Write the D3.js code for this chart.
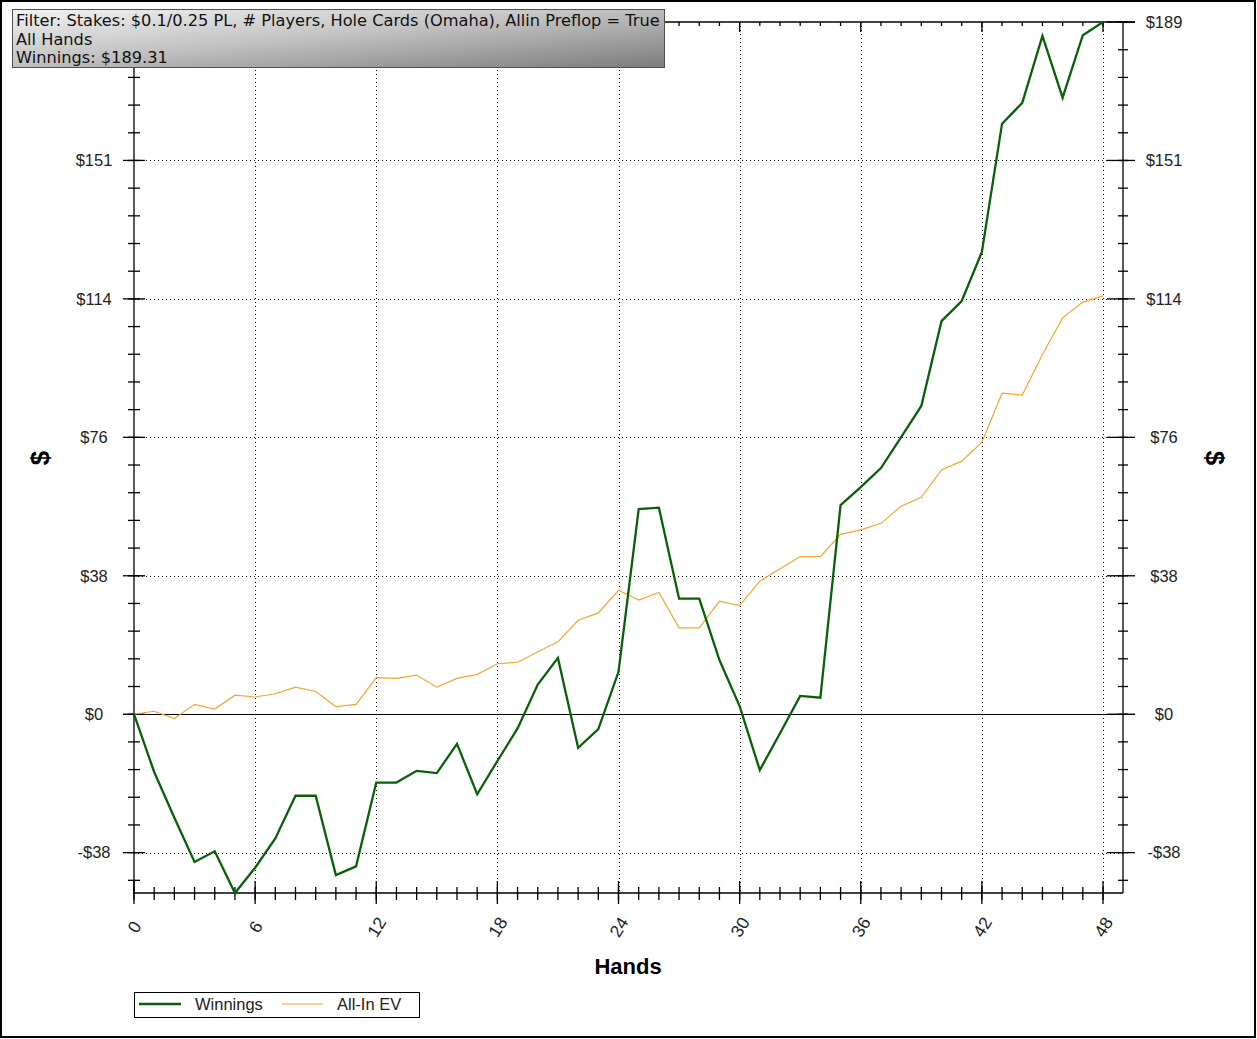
<!DOCTYPE html>
<html>
<head>
<meta charset="utf-8">
<script src="https://cdn.jsdelivr.net/npm/d3@7/dist/d3.min.js"></script>
<style>
  html, body { margin: 0; padding: 0; background: #fff; }
  svg { display: block; }
</style>
</head>
<body>
<svg id="chart" width="1257" height="1039"></svg>
<script>
// ---- data ----
const hands = [0,1,2,3,4,5,6,7,8,9,10,11,12,13,14,15,16,17,18,19,20,21,22,23,24,25,26,27,28,29,30,31,32,33,34,35,36,37,38,39,40,41,42,43,44,45,46,47,48];
const winnings = [0, -15.8, -28.3, -40.4, -37.5, -48.9, -42.0, -34.0, -22.3, -22.3, -44.0, -41.6, -18.7, -18.7, -15.5, -16.1, -8.1, -21.9, -12.8, -3.9, 8.1, 15.4, -9.2, -4.1, 11.6, 56.1, 56.5, 31.6, 31.6, 14.8, 2.2, -15.3, -5.2, 5.0, 4.5, 57.2, 62.1, 67.3, 75.8, 84.3, 107.5, 113.0, 126.4, 161.5, 167.2, 185.5, 168.6, 185.7, 189.31];
const allInEV = [0, 0.8, -1.2, 2.7, 1.4, 5.2, 4.7, 5.6, 7.4, 6.2, 2.1, 2.7, 10.0, 9.8, 10.7, 7.4, 9.8, 10.9, 13.8, 14.2, 17.1, 19.8, 25.7, 27.7, 33.9, 31.2, 33.3, 23.6, 23.6, 30.9, 29.7, 36.4, 39.8, 43.1, 43.1, 49.2, 50.4, 52.2, 56.9, 59.3, 66.8, 69.2, 74.4, 87.8, 87.3, 98.4, 108.4, 112.7, 114.4];
const xTickValues = [0, 6, 12, 18, 24, 30, 36, 42, 48];
const yTickValues = [-37.86, 0, 37.86, 75.72, 113.59, 151.45, 189.31];
const yTickLabels = ["-$38", "$0", "$38", "$76", "$114", "$151", "$189"];
const seriesNames = ["Winnings", "All-In EV"];
const filterLines = [
  "Filter: Stakes: $0.1/0.25 PL, # Players, Hole Cards (Omaha), Allin Preflop = True",
  "All Hands",
  "Winnings: $189.31"
];

// ---- layout ----
const svg = d3.select("#chart");
const L = 134, R = 1123, T = 22, B = 893;
const x = d3.scaleLinear().domain([0, 48]).range([L, 1103]);
const yExt = d3.extent(winnings.concat(allInEV));
const y = d3.scaleLinear().domain(yExt).range([B, T]);
const GREEN = "#0a600a", ORANGE = "#f0a830";
const tickFont = "'Liberation Sans', Arial, sans-serif";

// frame
svg.append("rect").attr("x", 1).attr("y", 1).attr("width", 1254).attr("height", 1036)
  .attr("fill", "#fff").attr("stroke", "#000").attr("stroke-width", 2);

// minor tick positions
const yStep = (yTickValues[2] - yTickValues[1]) / 5;
const yMinor = [];
for (let v = yTickValues[0] - yStep * 5; v <= yExt[1] + 0.01; v += yStep) {
  if (v >= yExt[0] - 0.01) yMinor.push(v);
}
const xMinor = hands;

// gridlines (dotted)
const grid = svg.append("g");
grid.selectAll("line.hg").data(yTickValues.filter(v => v !== 0 && v < yExt[1] - 0.5)).join("line")
  .attr("x1", L).attr("x2", R).attr("y1", d => Math.round(y(d)) + 0.5).attr("y2", d => Math.round(y(d)) + 0.5)
  .attr("stroke", "#000").attr("stroke-width", 1).attr("stroke-dasharray", "1,3");
grid.selectAll("line.vg").data(xTickValues.filter(v => v !== 0)).join("line")
  .attr("x1", d => Math.round(x(d)) + 0.5).attr("x2", d => Math.round(x(d)) + 0.5).attr("y1", T).attr("y2", B)
  .attr("stroke", "#000").attr("stroke-width", 1).attr("stroke-dasharray", "1,3");

// zero line
svg.append("line").attr("x1", L - 11).attr("x2", R + 12)
  .attr("y1", Math.round(y(0)) + 0.5).attr("y2", Math.round(y(0)) + 0.5)
  .attr("stroke", "#000").attr("stroke-width", 1);

// axes frame lines
const ax = svg.append("g").attr("stroke", "#000").attr("stroke-width", 1.3).attr("fill", "none");
ax.append("line").attr("x1", L).attr("x2", L).attr("y1", T).attr("y2", B);
ax.append("line").attr("x1", R).attr("x2", R).attr("y1", T).attr("y2", B);
ax.append("line").attr("x1", L).attr("x2", R).attr("y1", B).attr("y2", B);
ax.append("line").attr("x1", L).attr("x2", R + 12).attr("y1", T).attr("y2", T);

// left axis ticks (crossing)
ax.selectAll("line.lmaj").data(yTickValues).join("line")
  .attr("x1", L - 11).attr("x2", L + 11).attr("y1", d => y(d)).attr("y2", d => y(d));
ax.selectAll("line.lmin").data(yMinor).join("line")
  .attr("x1", L - 6).attr("x2", L + 6).attr("y1", d => y(d)).attr("y2", d => y(d));
// right axis ticks
ax.selectAll("line.rmaj").data(yTickValues).join("line")
  .attr("x1", R - 16).attr("x2", R + 12).attr("y1", d => y(d)).attr("y2", d => y(d));
ax.selectAll("line.rmin").data(yMinor).join("line")
  .attr("x1", R - 5).attr("x2", R + 5).attr("y1", d => y(d)).attr("y2", d => y(d));
// bottom ticks
ax.selectAll("line.bmaj").data(xTickValues).join("line")
  .attr("x1", d => x(d)).attr("x2", d => x(d)).attr("y1", B - 12).attr("y2", B + 11);
ax.selectAll("line.bmin").data(xMinor).join("line")
  .attr("x1", d => x(d)).attr("x2", d => x(d)).attr("y1", B - 6).attr("y2", B + 7);
// top ticks (inward)
ax.selectAll("line.tmaj").data(xTickValues).join("line")
  .attr("x1", d => x(d)).attr("x2", d => x(d)).attr("y1", T).attr("y2", T + 10);
ax.selectAll("line.tmin").data(xMinor).join("line")
  .attr("x1", d => x(d)).attr("x2", d => x(d)).attr("y1", T).attr("y2", T + 4);

// y tick labels via d3 axes (left top label is hidden behind the filter box in the original)
const fmt = (d) => yTickLabels[yTickValues.indexOf(d)];
const leftAxis = svg.append("g").attr("transform", `translate(${L},0)`)
  .call(d3.axisLeft(y).tickValues(yTickValues.slice(0, -1)).tickFormat(fmt).tickSize(0));
const rightAxis = svg.append("g").attr("transform", `translate(${R},0)`)
  .call(d3.axisRight(y).tickValues(yTickValues).tickFormat(fmt).tickSize(0));
[leftAxis, rightAxis].forEach(g => { g.select(".domain").remove(); });
leftAxis.selectAll("text").attr("x", -40).attr("text-anchor", "middle");
rightAxis.selectAll("text").attr("x", 41).attr("text-anchor", "middle");
svg.selectAll(".tick text").attr("font-family", tickFont).attr("font-size", 16.5).attr("fill", "#222");

// x tick labels via d3 axis
const bottomAxis = svg.append("g").attr("transform", `translate(0,${B})`)
  .call(d3.axisBottom(x).tickValues(xTickValues).tickSize(0));
bottomAxis.select(".domain").remove();
bottomAxis.selectAll("text")
  .attr("y", 0).attr("dy", null)
  .attr("transform", "translate(0,34) rotate(-58)")
  .attr("text-anchor", "middle").attr("dominant-baseline", "central")
  .attr("font-family", tickFont).attr("font-size", 17.5).attr("fill", "#222");

// lines
const lineGen = (arr) => d3.line().x((d, i) => x(hands[i])).y(d => y(d))(arr);
svg.append("path").attr("d", lineGen(allInEV)).attr("fill", "none")
  .attr("stroke", ORANGE).attr("stroke-width", 1.2).attr("stroke-linejoin", "miter");
svg.append("path").attr("d", lineGen(winnings)).attr("fill", "none")
  .attr("stroke", GREEN).attr("stroke-width", 2.3).attr("stroke-linejoin", "miter");

// axis titles
svg.append("text").attr("transform", "translate(40,458) rotate(-90)")
  .attr("text-anchor", "middle").attr("dominant-baseline", "central")
  .attr("font-family", tickFont).attr("font-weight", "bold").attr("font-size", 26).text("$");
svg.append("text").attr("transform", "translate(1215,458) rotate(90)")
  .attr("text-anchor", "middle").attr("dominant-baseline", "central")
  .attr("font-family", tickFont).attr("font-weight", "bold").attr("font-size", 26).text("$");
svg.append("text").attr("x", 628).attr("y", 974).attr("text-anchor", "middle")
  .attr("font-family", tickFont).attr("font-weight", "bold").attr("font-size", 22).text("Hands");

// legend
const lg = svg.append("g");
lg.append("rect").attr("x", 134.5).attr("y", 992.5).attr("width", 285).attr("height", 25)
  .attr("fill", "#fff").attr("stroke", "#000").attr("stroke-width", 1);
const legendItems = [
  { name: seriesNames[0], color: GREEN, w: 2.5, x1: 139, x2: 181, tx: 195 },
  { name: seriesNames[1], color: ORANGE, w: 1.2, x1: 282, x2: 323, tx: 337 }
];
legendItems.forEach(it => {
  lg.append("line").attr("x1", it.x1).attr("x2", it.x2).attr("y1", 1004).attr("y2", 1004)
    .attr("stroke", it.color).attr("stroke-width", it.w);
  lg.append("text").attr("x", it.tx).attr("y", 1009.5).attr("font-family", tickFont)
    .attr("font-size", 16.5).attr("fill", "#222").text(it.name);
});

// filter box
const defs = svg.append("defs");
const grad = defs.append("linearGradient").attr("id", "boxg")
  .attr("x1", "0").attr("y1", "0").attr("x2", "1").attr("y2", "1");
grad.append("stop").attr("offset", "0%").attr("stop-color", "#f2f2f2");
grad.append("stop").attr("offset", "45%").attr("stop-color", "#c4c4c4");
grad.append("stop").attr("offset", "100%").attr("stop-color", "#7c7c7c");
svg.append("rect").attr("x", 12.5).attr("y", 9.5).attr("width", 652).attr("height", 58)
  .attr("fill", "url(#boxg)").attr("stroke", "#505050").attr("stroke-width", 1);
const baselines = [26.5, 45, 63];
const ftG = svg.append("g");
const ftexts = filterLines.map((t, i) =>
  ftG.append("text").attr("x", 0).attr("y", baselines[i])
    .attr("font-family", "'DejaVu Sans', Verdana, sans-serif").attr("font-size", 16)
    .attr("fill", "#111").text(t));
const w0 = ftexts[0].node().getComputedTextLength();
const sx = 644 / w0;
ftG.attr("transform", `translate(16,0) scale(${sx},1)`);
</script>
</body>
</html>
